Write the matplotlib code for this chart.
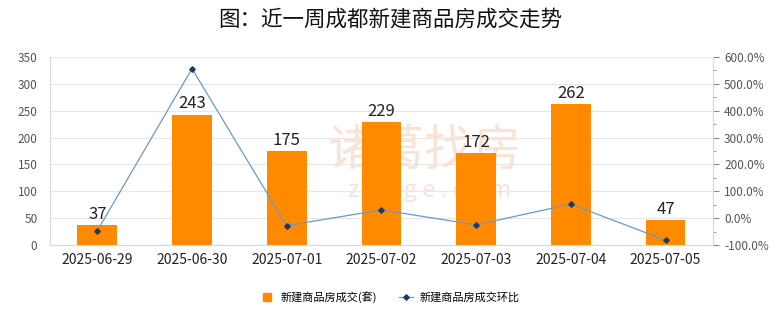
import matplotlib.pyplot as plt
from matplotlib.ticker import MultipleLocator, FuncFormatter
from matplotlib.lines import Line2D

plt.rcParams['font.family'] = ['Noto Sans CJK SC', 'DejaVu Sans']

# 数据
dates = ["2025-06-29", "2025-06-30", "2025-07-01", "2025-07-02",
         "2025-07-03", "2025-07-04", "2025-07-05"]
deals = [37, 243, 175, 229, 172, 262, 47]
ratio = [-47.0, 556.8, -28.0, 30.9, -24.9, 52.3, -82.1]

bar_color = "#FF8A00"
line_color = "#6A9AC4"
mark_color = "#1F3B5A"

fig = plt.figure(figsize=(7.8, 3.28), dpi=100)
ax = fig.add_axes([0.064, 0.253, 0.85, 0.573])
x = list(range(len(dates)))

# 水印（在柱子下面）
ax.text(0.566, 0.50, "诸葛找房", transform=ax.transAxes, fontsize=35,
        color="#F8E3D6", ha="center", va="center", zorder=1)
ax.text(0.573, 0.29, "z h u g e . c o m", transform=ax.transAxes, fontsize=17,
        color="#F8E3D6", ha="center", va="center", zorder=1)

ax.bar(x, deals, width=0.42, color=bar_color, zorder=2)
for xi, v in zip(x, deals):
    ax.text(xi, v + 4, str(v), ha="center", va="bottom", fontsize=12,
            color="#222222", zorder=5)

ax.set_xlim(-0.5, len(dates) - 0.5)
ax.set_ylim(0, 350)
ax.yaxis.set_major_locator(MultipleLocator(50))
ax.grid(axis="y", color="#E6E6E6", linewidth=0.8, zorder=0)
ax.set_axisbelow(True)
ax.set_xticks(x)
ax.set_xticklabels(dates, fontsize=10, color="#222222")
ax.tick_params(axis="x", length=0, pad=6)
ax.tick_params(axis="y", length=0, labelsize=8.5, labelcolor="#555555", pad=9)
ax.spines["top"].set_visible(False)
for s in ["left", "right", "bottom"]:
    ax.spines[s].set_color("#D9D9D9")

ax2 = ax.twinx()
ax2.plot(x, ratio, color=line_color, linewidth=0.9, marker="D",
         markersize=2.8, markerfacecolor=mark_color, markeredgecolor=mark_color,
         zorder=4)
ax2.set_ylim(-100, 600)
ax2.yaxis.set_major_locator(MultipleLocator(100))
ax2.yaxis.set_minor_locator(MultipleLocator(50))
ax2.yaxis.set_major_formatter(FuncFormatter(lambda v, p: f"{v:.1f}%"))
ax2.tick_params(axis="y", which="major", length=4, color="#888888",
                labelsize=8.5, labelcolor="#555555", pad=4)
ax2.tick_params(axis="y", which="minor", length=2, color="#888888")
for s in ["top", "left", "bottom"]:
    ax2.spines[s].set_visible(False)
ax2.spines["right"].set_color("#D9D9D9")

fig.suptitle("图：近一周成都新建商品房成交走势", fontsize=15.5, y=0.975,
             color="#111111")

handles = [
    Line2D([0], [0], marker="s", linestyle="none", markersize=6,
           markerfacecolor=bar_color, markeredgecolor=bar_color),
    Line2D([0], [0], color=line_color, linewidth=0.9, marker="D",
           markersize=2.8, markerfacecolor=mark_color, markeredgecolor=mark_color),
]
fig.legend(handles, ["新建商品房成交(套)", "新建商品房成交环比"],
           loc="center", bbox_to_anchor=(0.5, 0.095), ncol=2, frameon=False,
           fontsize=8, handlelength=1.2, columnspacing=2.0, handletextpad=0.6)

fig.savefig("out.png", dpi=100)
